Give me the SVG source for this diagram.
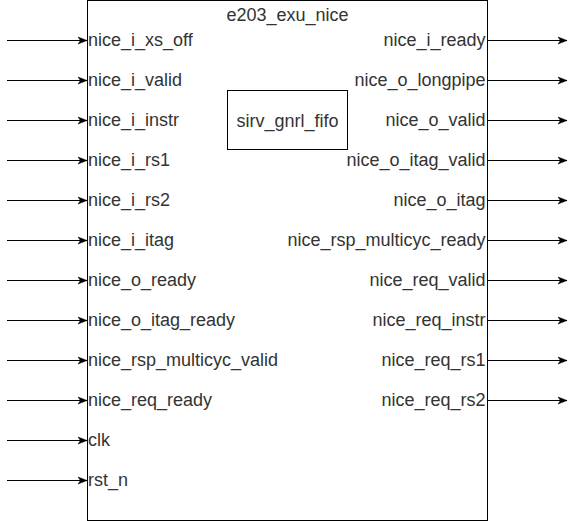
<svg xmlns="http://www.w3.org/2000/svg" width="576" height="521" viewBox="0 0 576 521">
<style>
.box{fill:#fff;stroke:#000;stroke-width:1}
.t{font-family:"Liberation Sans",Arial,sans-serif;font-size:18px;fill:#333}
.l{text-anchor:start}
.r{text-anchor:end}
.c{text-anchor:middle}
.w{stroke:#000;stroke-width:1;fill:none;marker-end:url(#ah)}
</style>
<defs>
<marker id="ah" markerUnits="userSpaceOnUse" markerWidth="10" markerHeight="10" refX="9" refY="4.5" orient="auto">
<path d="M0,1 L9,4.5 L0,8 L2.5,4.5 Z" fill="#000" stroke="#000" stroke-width="0.5"/>
</marker>
</defs>
<g id="e203_exu_nice">
<rect class="box" x="87.5" y="0.5" width="400" height="520"/>
<text class="t c" x="287.5" y="21">e203_exu_nice</text>
<text class="t l" x="88" y="46">nice_i_xs_off</text>
<text class="t l" x="88" y="86">nice_i_valid</text>
<text class="t l" x="88" y="126">nice_i_instr</text>
<text class="t l" x="88" y="166">nice_i_rs1</text>
<text class="t l" x="88" y="206">nice_i_rs2</text>
<text class="t l" x="88" y="246">nice_i_itag</text>
<text class="t l" x="88" y="286">nice_o_ready</text>
<text class="t l" x="88" y="326">nice_o_itag_ready</text>
<text class="t l" x="88" y="366">nice_rsp_multicyc_valid</text>
<text class="t l" x="88" y="406">nice_req_ready</text>
<text class="t l" x="88" y="446">clk</text>
<text class="t l" x="88" y="486">rst_n</text>
<text class="t r" x="485.5" y="46">nice_i_ready</text>
<text class="t r" x="485.5" y="86">nice_o_longpipe</text>
<text class="t r" x="485.5" y="126">nice_o_valid</text>
<text class="t r" x="485.5" y="166">nice_o_itag_valid</text>
<text class="t r" x="485.5" y="206">nice_o_itag</text>
<text class="t r" x="485.5" y="246">nice_rsp_multicyc_ready</text>
<text class="t r" x="485.5" y="286">nice_req_valid</text>
<text class="t r" x="485.5" y="326">nice_req_instr</text>
<text class="t r" x="485.5" y="366">nice_req_rs1</text>
<text class="t r" x="485.5" y="406">nice_req_rs2</text>
</g>
<g id="sirv_gnrl_fifo">
<rect class="box" x="227.5" y="90.5" width="120" height="59"/>
<text class="t c" x="287.5" y="126.5">sirv_gnrl_fifo</text>
</g>
<g id="connectors">
<path class="w" d="M7,40.5 H87"/>
<path class="w" d="M7,80.5 H87"/>
<path class="w" d="M7,120.5 H87"/>
<path class="w" d="M7,160.5 H87"/>
<path class="w" d="M7,200.5 H87"/>
<path class="w" d="M7,240.5 H87"/>
<path class="w" d="M7,280.5 H87"/>
<path class="w" d="M7,320.5 H87"/>
<path class="w" d="M7,360.5 H87"/>
<path class="w" d="M7,400.5 H87"/>
<path class="w" d="M7,440.5 H87"/>
<path class="w" d="M7,480.5 H87"/>
<path class="w" d="M488,40.5 H567"/>
<path class="w" d="M488,80.5 H567"/>
<path class="w" d="M488,120.5 H567"/>
<path class="w" d="M488,160.5 H567"/>
<path class="w" d="M488,200.5 H567"/>
<path class="w" d="M488,240.5 H567"/>
<path class="w" d="M488,280.5 H567"/>
<path class="w" d="M488,320.5 H567"/>
<path class="w" d="M488,360.5 H567"/>
<path class="w" d="M488,400.5 H567"/>
</g>
</svg>
